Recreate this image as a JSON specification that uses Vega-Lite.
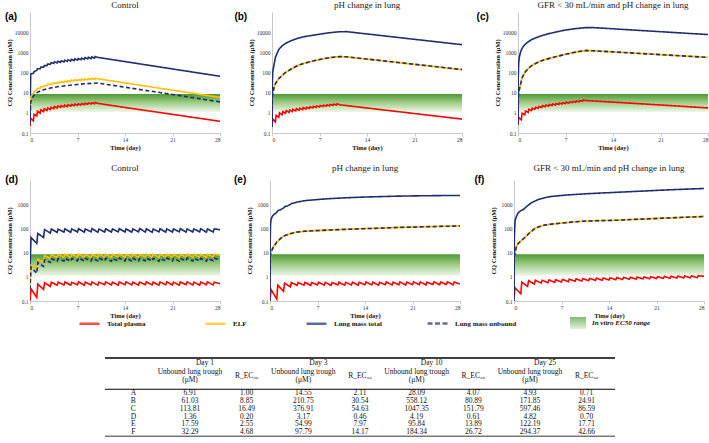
{
"$schema":"https://vega.github.io/schema/vega-lite/v6.json",
"background":"white",
"padding":{"left":4,"top":0,"right":0,"bottom":0},
"config":{"view":{"stroke":null},"font":"Liberation Serif",
"title":{"font":"Liberation Serif","fontSize":9,"fontWeight":"normal","color":"#222","offset":2},
"axis":{"labelFont":"Liberation Serif","labelFontSize":5.5,"labelColor":"#333","titleFont":"Liberation Serif","titleFontWeight":"bold","titleFontSize":6.5,"titleColor":"#111","grid":false,"domainColor":"#c8c8c8","tickColor":"#c8c8c8"},
"axisX":{"tickSize":3,"labelPadding":1,"titlePadding":2},
"axisY":{"ticks":false,"labelPadding":2,"titlePadding":2},
"legend":{"orient":"none","direction":"horizontal","title":null,"padding":0,"symbolType":"stroke","symbolSize":400,"labelFont":"Liberation Serif","labelFontWeight":"bold","labelFontSize":7,"labelColor":"#111","labelOffset":6,"labelLimit":300}},
"datasets":{
"band":[{"t0":0,"t1":28,"lo":1.1,"hi":8.5}],
"cq":[
{"p":"a","s":"TP","t":0,"v":0.22},{"p":"a","s":"TP","t":0.1,"v":0.55},{"p":"a","s":"TP","t":0.5,"v":0.4},{"p":"a","s":"TP","t":0.6,"v":0.85},{"p":"a","s":"TP","t":1,"v":0.7},{"p":"a","s":"TP","t":1.1,"v":1.2},{"p":"a","s":"TP","t":1.5,"v":0.95},{"p":"a","s":"TP","t":1.6,"v":1.4},{"p":"a","s":"TP","t":2,"v":1.15},{"p":"a","s":"TP","t":2.1,"v":1.6},{"p":"a","s":"TP","t":2.5,"v":1.3},{"p":"a","s":"TP","t":2.6,"v":1.75},{"p":"a","s":"TP","t":3,"v":1.45},{"p":"a","s":"TP","t":3.1,"v":1.9},{"p":"a","s":"TP","t":3.5,"v":1.6},{"p":"a","s":"TP","t":3.6,"v":2.05},{"p":"a","s":"TP","t":4,"v":1.72},{"p":"a","s":"TP","t":4.1,"v":2.2},{"p":"a","s":"TP","t":4.5,"v":1.85},{"p":"a","s":"TP","t":4.6,"v":2.3},{"p":"a","s":"TP","t":5,"v":1.95},{"p":"a","s":"TP","t":5.1,"v":2.4},{"p":"a","s":"TP","t":5.5,"v":2.05},{"p":"a","s":"TP","t":5.6,"v":2.5},{"p":"a","s":"TP","t":6,"v":2.15},{"p":"a","s":"TP","t":6.1,"v":2.6},{"p":"a","s":"TP","t":6.5,"v":2.25},{"p":"a","s":"TP","t":6.6,"v":2.7},{"p":"a","s":"TP","t":7,"v":2.35},{"p":"a","s":"TP","t":7.1,"v":2.8},{"p":"a","s":"TP","t":7.5,"v":2.45},{"p":"a","s":"TP","t":7.6,"v":2.9},{"p":"a","s":"TP","t":8,"v":2.55},{"p":"a","s":"TP","t":8.1,"v":3.0},{"p":"a","s":"TP","t":8.5,"v":2.65},{"p":"a","s":"TP","t":8.6,"v":3.1},{"p":"a","s":"TP","t":9,"v":2.75},{"p":"a","s":"TP","t":9.1,"v":3.2},{"p":"a","s":"TP","t":9.5,"v":2.85},{"p":"a","s":"TP","t":9.6,"v":3.3},{"p":"a","s":"TP","t":10,"v":2.95},{"p":"a","s":"TP","t":14,"v":1.85},{"p":"a","s":"TP","t":21,"v":0.84},{"p":"a","s":"TP","t":28,"v":0.38},
{"p":"a","s":"LT","t":0,"v":0.5},{"p":"a","s":"LT","t":0.1,"v":85},{"p":"a","s":"LT","t":0.5,"v":91},{"p":"a","s":"LT","t":0.6,"v":110},{"p":"a","s":"LT","t":1,"v":127},{"p":"a","s":"LT","t":1.1,"v":154},{"p":"a","s":"LT","t":1.5,"v":155},{"p":"a","s":"LT","t":1.6,"v":187},{"p":"a","s":"LT","t":2,"v":182},{"p":"a","s":"LT","t":2.1,"v":220},{"p":"a","s":"LT","t":2.5,"v":218},{"p":"a","s":"LT","t":2.6,"v":264},{"p":"a","s":"LT","t":3,"v":255},{"p":"a","s":"LT","t":3.1,"v":308},{"p":"a","s":"LT","t":3.5,"v":282},{"p":"a","s":"LT","t":3.6,"v":341},{"p":"a","s":"LT","t":4,"v":300},{"p":"a","s":"LT","t":4.1,"v":363},{"p":"a","s":"LT","t":4.5,"v":318},{"p":"a","s":"LT","t":4.6,"v":385},{"p":"a","s":"LT","t":5,"v":336},{"p":"a","s":"LT","t":5.1,"v":407},{"p":"a","s":"LT","t":5.5,"v":355},{"p":"a","s":"LT","t":5.6,"v":429},{"p":"a","s":"LT","t":6,"v":373},{"p":"a","s":"LT","t":6.1,"v":451},{"p":"a","s":"LT","t":6.5,"v":391},{"p":"a","s":"LT","t":6.6,"v":473},{"p":"a","s":"LT","t":7,"v":409},{"p":"a","s":"LT","t":7.1,"v":495},{"p":"a","s":"LT","t":7.5,"v":427},{"p":"a","s":"LT","t":7.6,"v":517},{"p":"a","s":"LT","t":8,"v":450},{"p":"a","s":"LT","t":8.1,"v":545},{"p":"a","s":"LT","t":8.5,"v":473},{"p":"a","s":"LT","t":8.6,"v":572},{"p":"a","s":"LT","t":9,"v":491},{"p":"a","s":"LT","t":9.1,"v":594},{"p":"a","s":"LT","t":9.5,"v":509},{"p":"a","s":"LT","t":9.6,"v":616},{"p":"a","s":"LT","t":10,"v":560},{"p":"a","s":"LT","t":14,"v":347},{"p":"a","s":"LT","t":21,"v":150},{"p":"a","s":"LT","t":28,"v":65},
{"p":"a","s":"E","t":0,"v":2.5},{"p":"a","s":"E","t":0.1,"v":6},{"p":"a","s":"E","t":0.5,"v":9.3},{"p":"a","s":"E","t":0.6,"v":11},{"p":"a","s":"E","t":1,"v":14},{"p":"a","s":"E","t":1.1,"v":16},{"p":"a","s":"E","t":1.5,"v":17},{"p":"a","s":"E","t":1.6,"v":19.5},{"p":"a","s":"E","t":2,"v":19.5},{"p":"a","s":"E","t":2.1,"v":22.5},{"p":"a","s":"E","t":2.5,"v":22},{"p":"a","s":"E","t":2.6,"v":26},{"p":"a","s":"E","t":3,"v":25},{"p":"a","s":"E","t":3.1,"v":29},{"p":"a","s":"E","t":3.5,"v":27},{"p":"a","s":"E","t":3.6,"v":31},{"p":"a","s":"E","t":4,"v":29},{"p":"a","s":"E","t":4.1,"v":33},{"p":"a","s":"E","t":4.5,"v":31},{"p":"a","s":"E","t":4.6,"v":35},{"p":"a","s":"E","t":5,"v":32.5},{"p":"a","s":"E","t":5.1,"v":37.5},{"p":"a","s":"E","t":5.5,"v":34},{"p":"a","s":"E","t":5.6,"v":39.5},{"p":"a","s":"E","t":6,"v":36},{"p":"a","s":"E","t":6.1,"v":42},{"p":"a","s":"E","t":6.5,"v":37.5},{"p":"a","s":"E","t":6.6,"v":43.5},{"p":"a","s":"E","t":7,"v":39},{"p":"a","s":"E","t":7.1,"v":45},{"p":"a","s":"E","t":7.5,"v":40},{"p":"a","s":"E","t":7.6,"v":47},{"p":"a","s":"E","t":8,"v":41.5},{"p":"a","s":"E","t":8.1,"v":48.5},{"p":"a","s":"E","t":8.5,"v":43},{"p":"a","s":"E","t":8.6,"v":50},{"p":"a","s":"E","t":9,"v":44.5},{"p":"a","s":"E","t":9.1,"v":51.5},{"p":"a","s":"E","t":9.5,"v":45.5},{"p":"a","s":"E","t":9.6,"v":52.5},{"p":"a","s":"E","t":10,"v":49},{"p":"a","s":"E","t":14,"v":30.5},{"p":"a","s":"E","t":21,"v":13.3},{"p":"a","s":"E","t":28,"v":5.8},
{"p":"a","s":"LU","t":0,"v":0.3},{"p":"a","s":"LU","t":0.1,"v":3.5},{"p":"a","s":"LU","t":0.5,"v":7},{"p":"a","s":"LU","t":1,"v":10},{"p":"a","s":"LU","t":1.5,"v":12},{"p":"a","s":"LU","t":2,"v":14},{"p":"a","s":"LU","t":3,"v":17},{"p":"a","s":"LU","t":4,"v":19.5},{"p":"a","s":"LU","t":5,"v":21.5},{"p":"a","s":"LU","t":6,"v":23.5},{"p":"a","s":"LU","t":7,"v":25.5},{"p":"a","s":"LU","t":8,"v":27.5},{"p":"a","s":"LU","t":9,"v":29},{"p":"a","s":"LU","t":10,"v":30},{"p":"a","s":"LU","t":14,"v":18.6},{"p":"a","s":"LU","t":21,"v":8.1},{"p":"a","s":"LU","t":28,"v":3.5},
{"p":"b","s":"TP","t":0,"v":0.2},{"p":"b","s":"TP","t":0.1,"v":0.5},{"p":"b","s":"TP","t":0.5,"v":0.35},{"p":"b","s":"TP","t":0.6,"v":0.75},{"p":"b","s":"TP","t":1,"v":0.6},{"p":"b","s":"TP","t":1.1,"v":1.0},{"p":"b","s":"TP","t":1.5,"v":0.8},{"p":"b","s":"TP","t":1.6,"v":1.15},{"p":"b","s":"TP","t":2,"v":0.95},{"p":"b","s":"TP","t":2.1,"v":1.3},{"p":"b","s":"TP","t":2.5,"v":1.05},{"p":"b","s":"TP","t":2.6,"v":1.4},{"p":"b","s":"TP","t":3,"v":1.15},{"p":"b","s":"TP","t":3.1,"v":1.5},{"p":"b","s":"TP","t":3.5,"v":1.25},{"p":"b","s":"TP","t":3.6,"v":1.6},{"p":"b","s":"TP","t":4,"v":1.35},{"p":"b","s":"TP","t":4.1,"v":1.7},{"p":"b","s":"TP","t":4.5,"v":1.45},{"p":"b","s":"TP","t":4.6,"v":1.8},{"p":"b","s":"TP","t":5,"v":1.55},{"p":"b","s":"TP","t":5.1,"v":1.9},{"p":"b","s":"TP","t":5.5,"v":1.65},{"p":"b","s":"TP","t":5.6,"v":2.0},{"p":"b","s":"TP","t":6,"v":1.75},{"p":"b","s":"TP","t":6.1,"v":2.1},{"p":"b","s":"TP","t":6.5,"v":1.85},{"p":"b","s":"TP","t":6.6,"v":2.2},{"p":"b","s":"TP","t":7,"v":1.95},{"p":"b","s":"TP","t":7.1,"v":2.3},{"p":"b","s":"TP","t":7.5,"v":2.05},{"p":"b","s":"TP","t":7.6,"v":2.4},{"p":"b","s":"TP","t":8,"v":2.15},{"p":"b","s":"TP","t":8.1,"v":2.5},{"p":"b","s":"TP","t":8.5,"v":2.25},{"p":"b","s":"TP","t":8.6,"v":2.6},{"p":"b","s":"TP","t":9,"v":2.35},{"p":"b","s":"TP","t":9.1,"v":2.7},{"p":"b","s":"TP","t":9.5,"v":2.45},{"p":"b","s":"TP","t":9.6,"v":2.85},{"p":"b","s":"TP","t":10,"v":2.5},{"p":"b","s":"TP","t":14,"v":1.74},{"p":"b","s":"TP","t":21,"v":0.92},{"p":"b","s":"TP","t":28,"v":0.49},
{"p":"b","s":"LT","t":0,"v":0.2},{"p":"b","s":"LT","t":0.03,"v":20},{"p":"b","s":"LT","t":0.1,"v":100},{"p":"b","s":"LT","t":0.25,"v":200},{"p":"b","s":"LT","t":0.5,"v":550},{"p":"b","s":"LT","t":1,"v":1400},{"p":"b","s":"LT","t":1.5,"v":2100},{"p":"b","s":"LT","t":2,"v":2800},{"p":"b","s":"LT","t":3,"v":4000},{"p":"b","s":"LT","t":4,"v":5200},{"p":"b","s":"LT","t":5,"v":6200},{"p":"b","s":"LT","t":6,"v":7000},{"p":"b","s":"LT","t":7,"v":7900},{"p":"b","s":"LT","t":8,"v":8900},{"p":"b","s":"LT","t":9,"v":9800},{"p":"b","s":"LT","t":10,"v":10500},{"p":"b","s":"LT","t":11,"v":10600},{"p":"b","s":"LT","t":14,"v":8150},{"p":"b","s":"LT","t":21,"v":4420},{"p":"b","s":"LT","t":28,"v":2400},
{"p":"b","s":"LU","t":0,"v":0.3},{"p":"b","s":"LU","t":0.05,"v":5},{"p":"b","s":"LU","t":0.15,"v":10},{"p":"b","s":"LU","t":0.3,"v":18},{"p":"b","s":"LU","t":0.5,"v":28},{"p":"b","s":"LU","t":1,"v":50},{"p":"b","s":"LU","t":1.5,"v":72},{"p":"b","s":"LU","t":2,"v":100},{"p":"b","s":"LU","t":2.7,"v":140},{"p":"b","s":"LU","t":3,"v":160},{"p":"b","s":"LU","t":4,"v":240},{"p":"b","s":"LU","t":5,"v":300},{"p":"b","s":"LU","t":6,"v":370},{"p":"b","s":"LU","t":7,"v":440},{"p":"b","s":"LU","t":8,"v":510},{"p":"b","s":"LU","t":9,"v":570},{"p":"b","s":"LU","t":10,"v":615},{"p":"b","s":"LU","t":11,"v":600},{"p":"b","s":"LU","t":14,"v":464},{"p":"b","s":"LU","t":21,"v":255},{"p":"b","s":"LU","t":28,"v":140},
{"p":"c","s":"TP","t":0,"v":0.25},{"p":"c","s":"TP","t":0.1,"v":0.6},{"p":"c","s":"TP","t":0.5,"v":0.45},{"p":"c","s":"TP","t":0.6,"v":0.95},{"p":"c","s":"TP","t":1,"v":0.8},{"p":"c","s":"TP","t":1.1,"v":1.25},{"p":"c","s":"TP","t":1.5,"v":1.05},{"p":"c","s":"TP","t":1.6,"v":1.5},{"p":"c","s":"TP","t":2,"v":1.3},{"p":"c","s":"TP","t":2.1,"v":1.7},{"p":"c","s":"TP","t":2.5,"v":1.5},{"p":"c","s":"TP","t":2.6,"v":1.9},{"p":"c","s":"TP","t":3,"v":1.7},{"p":"c","s":"TP","t":3.1,"v":2.1},{"p":"c","s":"TP","t":3.5,"v":1.85},{"p":"c","s":"TP","t":3.6,"v":2.3},{"p":"c","s":"TP","t":4,"v":2.0},{"p":"c","s":"TP","t":4.1,"v":2.45},{"p":"c","s":"TP","t":4.5,"v":2.15},{"p":"c","s":"TP","t":4.6,"v":2.6},{"p":"c","s":"TP","t":5,"v":2.3},{"p":"c","s":"TP","t":5.1,"v":2.75},{"p":"c","s":"TP","t":5.5,"v":2.45},{"p":"c","s":"TP","t":5.6,"v":2.9},{"p":"c","s":"TP","t":6,"v":2.6},{"p":"c","s":"TP","t":6.1,"v":3.05},{"p":"c","s":"TP","t":6.5,"v":2.75},{"p":"c","s":"TP","t":6.6,"v":3.2},{"p":"c","s":"TP","t":7,"v":2.9},{"p":"c","s":"TP","t":7.1,"v":3.35},{"p":"c","s":"TP","t":7.5,"v":3.05},{"p":"c","s":"TP","t":7.6,"v":3.5},{"p":"c","s":"TP","t":8,"v":3.2},{"p":"c","s":"TP","t":8.1,"v":3.65},{"p":"c","s":"TP","t":8.5,"v":3.35},{"p":"c","s":"TP","t":8.6,"v":3.85},{"p":"c","s":"TP","t":9,"v":3.55},{"p":"c","s":"TP","t":9.1,"v":4.05},{"p":"c","s":"TP","t":9.5,"v":3.8},{"p":"c","s":"TP","t":9.6,"v":4.4},{"p":"c","s":"TP","t":10,"v":4.1},{"p":"c","s":"TP","t":14,"v":3.4},{"p":"c","s":"TP","t":21,"v":2.45},{"p":"c","s":"TP","t":28,"v":1.75},
{"p":"c","s":"LT","t":0,"v":0.3},{"p":"c","s":"LT","t":0.03,"v":50},{"p":"c","s":"LT","t":0.1,"v":300},{"p":"c","s":"LT","t":0.2,"v":600},{"p":"c","s":"LT","t":0.4,"v":1100},{"p":"c","s":"LT","t":0.7,"v":1800},{"p":"c","s":"LT","t":1.1,"v":2600},{"p":"c","s":"LT","t":1.5,"v":3300},{"p":"c","s":"LT","t":2,"v":4300},{"p":"c","s":"LT","t":2.6,"v":5200},{"p":"c","s":"LT","t":3.5,"v":6700},{"p":"c","s":"LT","t":4.5,"v":8400},{"p":"c","s":"LT","t":5.5,"v":10000},{"p":"c","s":"LT","t":7,"v":12800},{"p":"c","s":"LT","t":8.5,"v":15000},{"p":"c","s":"LT","t":10,"v":16800},{"p":"c","s":"LT","t":11,"v":16900},{"p":"c","s":"LT","t":14,"v":14700},{"p":"c","s":"LT","t":21,"v":10560},{"p":"c","s":"LT","t":28,"v":7600},
{"p":"c","s":"LU","t":0,"v":0.3},{"p":"c","s":"LU","t":0.05,"v":5},{"p":"c","s":"LU","t":0.15,"v":12},{"p":"c","s":"LU","t":0.4,"v":28},{"p":"c","s":"LU","t":0.6,"v":55},{"p":"c","s":"LU","t":1,"v":100},{"p":"c","s":"LU","t":1.6,"v":170},{"p":"c","s":"LU","t":2.2,"v":240},{"p":"c","s":"LU","t":3.1,"v":340},{"p":"c","s":"LU","t":4,"v":440},{"p":"c","s":"LU","t":5.5,"v":600},{"p":"c","s":"LU","t":7,"v":800},{"p":"c","s":"LU","t":8,"v":950},{"p":"c","s":"LU","t":9,"v":1100},{"p":"c","s":"LU","t":10,"v":1230},{"p":"c","s":"LU","t":11,"v":1200},{"p":"c","s":"LU","t":14,"v":1050},{"p":"c","s":"LU","t":21,"v":767},{"p":"c","s":"LU","t":28,"v":560},
{"p":"d","s":"TP","t":0,"v":0.1},{"p":"d","s":"TP","t":0.15,"v":0.32},{"p":"d","s":"TP","t":1,"v":0.14},{"p":"d","s":"TP","t":1.15,"v":0.5},{"p":"d","s":"TP","t":2,"v":0.3},{"p":"d","s":"TP","t":2.15,"v":0.57},{"p":"d","s":"TP","t":3,"v":0.4},{"p":"d","s":"TP","t":3.15,"v":0.6},{"p":"d","s":"TP","t":4,"v":0.45},{"p":"d","s":"TP","t":4.15,"v":0.6},{"p":"d","s":"TP","t":5,"v":0.46},{"p":"d","s":"TP","t":5.15,"v":0.61},{"p":"d","s":"TP","t":6,"v":0.45},{"p":"d","s":"TP","t":6.15,"v":0.59},{"p":"d","s":"TP","t":7,"v":0.47},{"p":"d","s":"TP","t":7.15,"v":0.62},{"p":"d","s":"TP","t":8,"v":0.45},{"p":"d","s":"TP","t":8.15,"v":0.6},{"p":"d","s":"TP","t":9,"v":0.46},{"p":"d","s":"TP","t":9.15,"v":0.61},{"p":"d","s":"TP","t":10,"v":0.45},{"p":"d","s":"TP","t":10.15,"v":0.6},{"p":"d","s":"TP","t":11,"v":0.47},{"p":"d","s":"TP","t":11.15,"v":0.62},{"p":"d","s":"TP","t":12,"v":0.46},{"p":"d","s":"TP","t":12.15,"v":0.6},{"p":"d","s":"TP","t":13,"v":0.45},{"p":"d","s":"TP","t":13.15,"v":0.61},{"p":"d","s":"TP","t":14,"v":0.47},{"p":"d","s":"TP","t":14.15,"v":0.62},{"p":"d","s":"TP","t":15,"v":0.46},{"p":"d","s":"TP","t":15.15,"v":0.6},{"p":"d","s":"TP","t":16,"v":0.45},{"p":"d","s":"TP","t":16.15,"v":0.61},{"p":"d","s":"TP","t":17,"v":0.47},{"p":"d","s":"TP","t":17.15,"v":0.62},{"p":"d","s":"TP","t":18,"v":0.46},{"p":"d","s":"TP","t":18.15,"v":0.6},{"p":"d","s":"TP","t":19,"v":0.45},{"p":"d","s":"TP","t":19.15,"v":0.61},{"p":"d","s":"TP","t":20,"v":0.47},{"p":"d","s":"TP","t":20.15,"v":0.62},{"p":"d","s":"TP","t":21,"v":0.46},{"p":"d","s":"TP","t":21.15,"v":0.6},{"p":"d","s":"TP","t":22,"v":0.45},{"p":"d","s":"TP","t":22.15,"v":0.61},{"p":"d","s":"TP","t":23,"v":0.47},{"p":"d","s":"TP","t":23.15,"v":0.62},{"p":"d","s":"TP","t":24,"v":0.46},{"p":"d","s":"TP","t":24.15,"v":0.6},{"p":"d","s":"TP","t":25,"v":0.45},{"p":"d","s":"TP","t":25.15,"v":0.61},{"p":"d","s":"TP","t":26,"v":0.47},{"p":"d","s":"TP","t":26.15,"v":0.62},{"p":"d","s":"TP","t":27,"v":0.46},{"p":"d","s":"TP","t":27.15,"v":0.6},{"p":"d","s":"TP","t":28,"v":0.52},
{"p":"d","s":"LT","t":0,"v":2},{"p":"d","s":"LT","t":0.15,"v":42},{"p":"d","s":"LT","t":1,"v":24},{"p":"d","s":"LT","t":1.15,"v":62},{"p":"d","s":"LT","t":2,"v":42},{"p":"d","s":"LT","t":2.15,"v":90},{"p":"d","s":"LT","t":3,"v":64},{"p":"d","s":"LT","t":3.15,"v":95},{"p":"d","s":"LT","t":4,"v":68},{"p":"d","s":"LT","t":4.15,"v":94},{"p":"d","s":"LT","t":5,"v":70},{"p":"d","s":"LT","t":5.15,"v":96},{"p":"d","s":"LT","t":6,"v":69},{"p":"d","s":"LT","t":6.15,"v":95},{"p":"d","s":"LT","t":7,"v":71},{"p":"d","s":"LT","t":7.15,"v":97},{"p":"d","s":"LT","t":8,"v":70},{"p":"d","s":"LT","t":8.15,"v":95},{"p":"d","s":"LT","t":9,"v":72},{"p":"d","s":"LT","t":9.15,"v":98},{"p":"d","s":"LT","t":10,"v":69},{"p":"d","s":"LT","t":10.15,"v":94},{"p":"d","s":"LT","t":11,"v":71},{"p":"d","s":"LT","t":11.15,"v":96},{"p":"d","s":"LT","t":12,"v":70},{"p":"d","s":"LT","t":12.15,"v":95},{"p":"d","s":"LT","t":13,"v":72},{"p":"d","s":"LT","t":13.15,"v":97},{"p":"d","s":"LT","t":14,"v":71},{"p":"d","s":"LT","t":14.15,"v":96},{"p":"d","s":"LT","t":15,"v":70},{"p":"d","s":"LT","t":15.15,"v":95},{"p":"d","s":"LT","t":16,"v":72},{"p":"d","s":"LT","t":16.15,"v":98},{"p":"d","s":"LT","t":17,"v":71},{"p":"d","s":"LT","t":17.15,"v":96},{"p":"d","s":"LT","t":18,"v":69},{"p":"d","s":"LT","t":18.15,"v":94},{"p":"d","s":"LT","t":19,"v":72},{"p":"d","s":"LT","t":19.15,"v":97},{"p":"d","s":"LT","t":20,"v":70},{"p":"d","s":"LT","t":20.15,"v":95},{"p":"d","s":"LT","t":21,"v":71},{"p":"d","s":"LT","t":21.15,"v":96},{"p":"d","s":"LT","t":22,"v":72},{"p":"d","s":"LT","t":22.15,"v":98},{"p":"d","s":"LT","t":23,"v":70},{"p":"d","s":"LT","t":23.15,"v":95},{"p":"d","s":"LT","t":24,"v":71},{"p":"d","s":"LT","t":24.15,"v":96},{"p":"d","s":"LT","t":25,"v":72},{"p":"d","s":"LT","t":25.15,"v":97},{"p":"d","s":"LT","t":26,"v":70},{"p":"d","s":"LT","t":26.15,"v":95},{"p":"d","s":"LT","t":27,"v":71},{"p":"d","s":"LT","t":27.15,"v":96},{"p":"d","s":"LT","t":28,"v":88},
{"p":"d","s":"E","t":0,"v":0.4},{"p":"d","s":"E","t":0.15,"v":3.0},{"p":"d","s":"E","t":1,"v":2.1},{"p":"d","s":"E","t":1.15,"v":5.2},{"p":"d","s":"E","t":2,"v":4.0},{"p":"d","s":"E","t":2.15,"v":7.4},{"p":"d","s":"E","t":3,"v":5.8},{"p":"d","s":"E","t":3.15,"v":8.2},{"p":"d","s":"E","t":4,"v":6.4},{"p":"d","s":"E","t":4.15,"v":8.4},{"p":"d","s":"E","t":5,"v":6.5},{"p":"d","s":"E","t":5.15,"v":8.6},{"p":"d","s":"E","t":6,"v":6.4},{"p":"d","s":"E","t":6.15,"v":8.5},{"p":"d","s":"E","t":7,"v":6.6},{"p":"d","s":"E","t":7.15,"v":8.7},{"p":"d","s":"E","t":8,"v":6.5},{"p":"d","s":"E","t":8.15,"v":8.5},{"p":"d","s":"E","t":9,"v":6.4},{"p":"d","s":"E","t":9.15,"v":8.4},{"p":"d","s":"E","t":10,"v":6.6},{"p":"d","s":"E","t":10.15,"v":8.7},{"p":"d","s":"E","t":11,"v":6.5},{"p":"d","s":"E","t":11.15,"v":8.6},{"p":"d","s":"E","t":12,"v":6.4},{"p":"d","s":"E","t":12.15,"v":8.5},{"p":"d","s":"E","t":13,"v":6.6},{"p":"d","s":"E","t":13.15,"v":8.7},{"p":"d","s":"E","t":14,"v":6.5},{"p":"d","s":"E","t":14.15,"v":8.5},{"p":"d","s":"E","t":15,"v":6.5},{"p":"d","s":"E","t":15.15,"v":8.6},{"p":"d","s":"E","t":16,"v":6.4},{"p":"d","s":"E","t":16.15,"v":8.4},{"p":"d","s":"E","t":17,"v":6.6},{"p":"d","s":"E","t":17.15,"v":8.7},{"p":"d","s":"E","t":18,"v":6.5},{"p":"d","s":"E","t":18.15,"v":8.6},{"p":"d","s":"E","t":19,"v":6.4},{"p":"d","s":"E","t":19.15,"v":8.5},{"p":"d","s":"E","t":20,"v":6.6},{"p":"d","s":"E","t":20.15,"v":8.7},{"p":"d","s":"E","t":21,"v":6.5},{"p":"d","s":"E","t":21.15,"v":8.5},{"p":"d","s":"E","t":22,"v":6.4},{"p":"d","s":"E","t":22.15,"v":8.4},{"p":"d","s":"E","t":23,"v":6.6},{"p":"d","s":"E","t":23.15,"v":8.7},{"p":"d","s":"E","t":24,"v":6.5},{"p":"d","s":"E","t":24.15,"v":8.6},{"p":"d","s":"E","t":25,"v":6.5},{"p":"d","s":"E","t":25.15,"v":8.5},{"p":"d","s":"E","t":26,"v":6.4},{"p":"d","s":"E","t":26.15,"v":8.4},{"p":"d","s":"E","t":27,"v":6.6},{"p":"d","s":"E","t":27.15,"v":8.7},{"p":"d","s":"E","t":28,"v":7.6},
{"p":"d","s":"LU","t":0,"v":0.3},{"p":"d","s":"LU","t":0.15,"v":2.5},{"p":"d","s":"LU","t":1,"v":1.4},{"p":"d","s":"LU","t":1.15,"v":3.9},{"p":"d","s":"LU","t":2,"v":2.7},{"p":"d","s":"LU","t":2.15,"v":5.0},{"p":"d","s":"LU","t":3,"v":3.9},{"p":"d","s":"LU","t":3.15,"v":5.6},{"p":"d","s":"LU","t":4,"v":4.4},{"p":"d","s":"LU","t":4.15,"v":5.7},{"p":"d","s":"LU","t":5,"v":4.5},{"p":"d","s":"LU","t":5.15,"v":5.8},{"p":"d","s":"LU","t":6,"v":4.4},{"p":"d","s":"LU","t":6.15,"v":5.7},{"p":"d","s":"LU","t":7,"v":4.6},{"p":"d","s":"LU","t":7.15,"v":5.9},{"p":"d","s":"LU","t":8,"v":4.5},{"p":"d","s":"LU","t":8.15,"v":5.8},{"p":"d","s":"LU","t":9,"v":4.4},{"p":"d","s":"LU","t":9.15,"v":5.7},{"p":"d","s":"LU","t":10,"v":4.6},{"p":"d","s":"LU","t":10.15,"v":5.9},{"p":"d","s":"LU","t":11,"v":4.5},{"p":"d","s":"LU","t":11.15,"v":5.8},{"p":"d","s":"LU","t":12,"v":4.4},{"p":"d","s":"LU","t":12.15,"v":5.7},{"p":"d","s":"LU","t":13,"v":4.6},{"p":"d","s":"LU","t":13.15,"v":5.9},{"p":"d","s":"LU","t":14,"v":4.5},{"p":"d","s":"LU","t":14.15,"v":5.8},{"p":"d","s":"LU","t":15,"v":4.5},{"p":"d","s":"LU","t":15.15,"v":5.8},{"p":"d","s":"LU","t":16,"v":4.4},{"p":"d","s":"LU","t":16.15,"v":5.7},{"p":"d","s":"LU","t":17,"v":4.6},{"p":"d","s":"LU","t":17.15,"v":5.9},{"p":"d","s":"LU","t":18,"v":4.5},{"p":"d","s":"LU","t":18.15,"v":5.8},{"p":"d","s":"LU","t":19,"v":4.4},{"p":"d","s":"LU","t":19.15,"v":5.7},{"p":"d","s":"LU","t":20,"v":4.6},{"p":"d","s":"LU","t":20.15,"v":5.9},{"p":"d","s":"LU","t":21,"v":4.5},{"p":"d","s":"LU","t":21.15,"v":5.8},{"p":"d","s":"LU","t":22,"v":4.4},{"p":"d","s":"LU","t":22.15,"v":5.7},{"p":"d","s":"LU","t":23,"v":4.6},{"p":"d","s":"LU","t":23.15,"v":5.9},{"p":"d","s":"LU","t":24,"v":4.5},{"p":"d","s":"LU","t":24.15,"v":5.8},{"p":"d","s":"LU","t":25,"v":4.5},{"p":"d","s":"LU","t":25.15,"v":5.8},{"p":"d","s":"LU","t":26,"v":4.4},{"p":"d","s":"LU","t":26.15,"v":5.7},{"p":"d","s":"LU","t":27,"v":4.6},{"p":"d","s":"LU","t":27.15,"v":5.9},{"p":"d","s":"LU","t":28,"v":5.0},
{"p":"e","s":"TP","t":0,"v":0.1},{"p":"e","s":"TP","t":0.15,"v":0.3},{"p":"e","s":"TP","t":1,"v":0.12},{"p":"e","s":"TP","t":1.15,"v":0.45},{"p":"e","s":"TP","t":2,"v":0.25},{"p":"e","s":"TP","t":2.15,"v":0.55},{"p":"e","s":"TP","t":3,"v":0.38},{"p":"e","s":"TP","t":3.15,"v":0.58},{"p":"e","s":"TP","t":4,"v":0.44},{"p":"e","s":"TP","t":4.15,"v":0.58},{"p":"e","s":"TP","t":5,"v":0.45},{"p":"e","s":"TP","t":5.15,"v":0.59},{"p":"e","s":"TP","t":6,"v":0.44},{"p":"e","s":"TP","t":6.15,"v":0.58},{"p":"e","s":"TP","t":7,"v":0.46},{"p":"e","s":"TP","t":7.15,"v":0.6},{"p":"e","s":"TP","t":8,"v":0.45},{"p":"e","s":"TP","t":8.15,"v":0.59},{"p":"e","s":"TP","t":9,"v":0.44},{"p":"e","s":"TP","t":9.15,"v":0.58},{"p":"e","s":"TP","t":10,"v":0.46},{"p":"e","s":"TP","t":10.15,"v":0.6},{"p":"e","s":"TP","t":11,"v":0.45},{"p":"e","s":"TP","t":11.15,"v":0.59},{"p":"e","s":"TP","t":12,"v":0.46},{"p":"e","s":"TP","t":12.15,"v":0.6},{"p":"e","s":"TP","t":13,"v":0.45},{"p":"e","s":"TP","t":13.15,"v":0.59},{"p":"e","s":"TP","t":14,"v":0.47},{"p":"e","s":"TP","t":14.15,"v":0.61},{"p":"e","s":"TP","t":15,"v":0.46},{"p":"e","s":"TP","t":15.15,"v":0.6},{"p":"e","s":"TP","t":16,"v":0.45},{"p":"e","s":"TP","t":16.15,"v":0.59},{"p":"e","s":"TP","t":17,"v":0.47},{"p":"e","s":"TP","t":17.15,"v":0.61},{"p":"e","s":"TP","t":18,"v":0.46},{"p":"e","s":"TP","t":18.15,"v":0.6},{"p":"e","s":"TP","t":19,"v":0.47},{"p":"e","s":"TP","t":19.15,"v":0.61},{"p":"e","s":"TP","t":20,"v":0.46},{"p":"e","s":"TP","t":20.15,"v":0.6},{"p":"e","s":"TP","t":21,"v":0.48},{"p":"e","s":"TP","t":21.15,"v":0.62},{"p":"e","s":"TP","t":22,"v":0.47},{"p":"e","s":"TP","t":22.15,"v":0.61},{"p":"e","s":"TP","t":23,"v":0.46},{"p":"e","s":"TP","t":23.15,"v":0.6},{"p":"e","s":"TP","t":24,"v":0.48},{"p":"e","s":"TP","t":24.15,"v":0.62},{"p":"e","s":"TP","t":25,"v":0.47},{"p":"e","s":"TP","t":25.15,"v":0.61},{"p":"e","s":"TP","t":26,"v":0.48},{"p":"e","s":"TP","t":26.15,"v":0.62},{"p":"e","s":"TP","t":27,"v":0.47},{"p":"e","s":"TP","t":27.15,"v":0.61},{"p":"e","s":"TP","t":28,"v":0.5},
{"p":"e","s":"LT","t":0,"v":0.1},{"p":"e","s":"LT","t":0.03,"v":30},{"p":"e","s":"LT","t":0.08,"v":150},{"p":"e","s":"LT","t":0.15,"v":230},{"p":"e","s":"LT","t":0.3,"v":300},{"p":"e","s":"LT","t":0.5,"v":360},{"p":"e","s":"LT","t":0.8,"v":420},{"p":"e","s":"LT","t":1,"v":470},{"p":"e","s":"LT","t":1.2,"v":550},{"p":"e","s":"LT","t":1.5,"v":580},{"p":"e","s":"LT","t":2,"v":700},{"p":"e","s":"LT","t":2.2,"v":800},{"p":"e","s":"LT","t":2.5,"v":830},{"p":"e","s":"LT","t":3,"v":980},{"p":"e","s":"LT","t":3.2,"v":1080},{"p":"e","s":"LT","t":3.5,"v":1120},{"p":"e","s":"LT","t":4,"v":1230},{"p":"e","s":"LT","t":4.5,"v":1300},{"p":"e","s":"LT","t":5,"v":1380},{"p":"e","s":"LT","t":6,"v":1480},{"p":"e","s":"LT","t":7,"v":1560},{"p":"e","s":"LT","t":8.8,"v":1700},{"p":"e","s":"LT","t":11,"v":1830},{"p":"e","s":"LT","t":13.8,"v":1970},{"p":"e","s":"LT","t":16,"v":2050},{"p":"e","s":"LT","t":18.7,"v":2150},{"p":"e","s":"LT","t":22,"v":2220},{"p":"e","s":"LT","t":25,"v":2270},{"p":"e","s":"LT","t":28,"v":2300},
{"p":"e","s":"LU","t":0,"v":0.3},{"p":"e","s":"LU","t":0.05,"v":6},{"p":"e","s":"LU","t":0.1,"v":10},{"p":"e","s":"LU","t":0.25,"v":12},{"p":"e","s":"LU","t":0.5,"v":17},{"p":"e","s":"LU","t":1,"v":27},{"p":"e","s":"LU","t":1.5,"v":37},{"p":"e","s":"LU","t":2,"v":48},{"p":"e","s":"LU","t":2.9,"v":60},{"p":"e","s":"LU","t":3.9,"v":70},{"p":"e","s":"LU","t":5,"v":76},{"p":"e","s":"LU","t":6.4,"v":80},{"p":"e","s":"LU","t":8.8,"v":86},{"p":"e","s":"LU","t":11,"v":91},{"p":"e","s":"LU","t":13.8,"v":97},{"p":"e","s":"LU","t":16,"v":102},{"p":"e","s":"LU","t":18.7,"v":109},{"p":"e","s":"LU","t":22,"v":115},{"p":"e","s":"LU","t":25,"v":121},{"p":"e","s":"LU","t":28,"v":126},
{"p":"f","s":"TP","t":0,"v":0.12},{"p":"f","s":"TP","t":0.15,"v":0.35},{"p":"f","s":"TP","t":1,"v":0.2},{"p":"f","s":"TP","t":1.15,"v":0.6},{"p":"f","s":"TP","t":2,"v":0.4},{"p":"f","s":"TP","t":2.15,"v":0.7},{"p":"f","s":"TP","t":3,"v":0.5},{"p":"f","s":"TP","t":3.15,"v":0.72},{"p":"f","s":"TP","t":4,"v":0.55},{"p":"f","s":"TP","t":4.15,"v":0.72},{"p":"f","s":"TP","t":5,"v":0.57},{"p":"f","s":"TP","t":5.15,"v":0.74},{"p":"f","s":"TP","t":6,"v":0.59},{"p":"f","s":"TP","t":6.15,"v":0.76},{"p":"f","s":"TP","t":7,"v":0.61},{"p":"f","s":"TP","t":7.15,"v":0.78},{"p":"f","s":"TP","t":8,"v":0.63},{"p":"f","s":"TP","t":8.15,"v":0.8},{"p":"f","s":"TP","t":9,"v":0.65},{"p":"f","s":"TP","t":9.15,"v":0.82},{"p":"f","s":"TP","t":10,"v":0.67},{"p":"f","s":"TP","t":10.15,"v":0.84},{"p":"f","s":"TP","t":11,"v":0.69},{"p":"f","s":"TP","t":11.15,"v":0.86},{"p":"f","s":"TP","t":12,"v":0.71},{"p":"f","s":"TP","t":12.15,"v":0.88},{"p":"f","s":"TP","t":13,"v":0.72},{"p":"f","s":"TP","t":13.15,"v":0.9},{"p":"f","s":"TP","t":14,"v":0.74},{"p":"f","s":"TP","t":14.15,"v":0.91},{"p":"f","s":"TP","t":15,"v":0.76},{"p":"f","s":"TP","t":15.15,"v":0.93},{"p":"f","s":"TP","t":16,"v":0.77},{"p":"f","s":"TP","t":16.15,"v":0.95},{"p":"f","s":"TP","t":17,"v":0.79},{"p":"f","s":"TP","t":17.15,"v":0.96},{"p":"f","s":"TP","t":18,"v":0.8},{"p":"f","s":"TP","t":18.15,"v":0.98},{"p":"f","s":"TP","t":19,"v":0.82},{"p":"f","s":"TP","t":19.15,"v":0.99},{"p":"f","s":"TP","t":20,"v":0.83},{"p":"f","s":"TP","t":20.15,"v":1.01},{"p":"f","s":"TP","t":21,"v":0.85},{"p":"f","s":"TP","t":21.15,"v":1.02},{"p":"f","s":"TP","t":22,"v":0.86},{"p":"f","s":"TP","t":22.15,"v":1.04},{"p":"f","s":"TP","t":23,"v":0.87},{"p":"f","s":"TP","t":23.15,"v":1.05},{"p":"f","s":"TP","t":24,"v":0.89},{"p":"f","s":"TP","t":24.15,"v":1.07},{"p":"f","s":"TP","t":25,"v":0.9},{"p":"f","s":"TP","t":25.15,"v":1.08},{"p":"f","s":"TP","t":26,"v":0.91},{"p":"f","s":"TP","t":26.15,"v":1.09},{"p":"f","s":"TP","t":27,"v":0.92},{"p":"f","s":"TP","t":27.15,"v":1.11},{"p":"f","s":"TP","t":28,"v":1.05},
{"p":"f","s":"LT","t":0,"v":0.1},{"p":"f","s":"LT","t":0.05,"v":40},{"p":"f","s":"LT","t":0.15,"v":200},{"p":"f","s":"LT","t":0.25,"v":260},{"p":"f","s":"LT","t":0.4,"v":330},{"p":"f","s":"LT","t":0.63,"v":450},{"p":"f","s":"LT","t":1,"v":540},{"p":"f","s":"LT","t":1.37,"v":600},{"p":"f","s":"LT","t":1.86,"v":800},{"p":"f","s":"LT","t":2.2,"v":950},{"p":"f","s":"LT","t":2.6,"v":1160},{"p":"f","s":"LT","t":3.56,"v":1550},{"p":"f","s":"LT","t":4.5,"v":1850},{"p":"f","s":"LT","t":5.5,"v":2100},{"p":"f","s":"LT","t":8,"v":2420},{"p":"f","s":"LT","t":10.5,"v":2680},{"p":"f","s":"LT","t":12.9,"v":2900},{"p":"f","s":"LT","t":15.3,"v":3120},{"p":"f","s":"LT","t":17.7,"v":3350},{"p":"f","s":"LT","t":20,"v":3600},{"p":"f","s":"LT","t":22.6,"v":3900},{"p":"f","s":"LT","t":25,"v":4150},{"p":"f","s":"LT","t":28,"v":4450},
{"p":"f","s":"LU","t":0,"v":0.3},{"p":"f","s":"LU","t":0.05,"v":5},{"p":"f","s":"LU","t":0.15,"v":10},{"p":"f","s":"LU","t":0.39,"v":19},{"p":"f","s":"LU","t":0.63,"v":24},{"p":"f","s":"LU","t":1,"v":30},{"p":"f","s":"LU","t":1.6,"v":42},{"p":"f","s":"LU","t":2.3,"v":66},{"p":"f","s":"LU","t":3.1,"v":100},{"p":"f","s":"LU","t":3.8,"v":120},{"p":"f","s":"LU","t":4.5,"v":137},{"p":"f","s":"LU","t":5.5,"v":150},{"p":"f","s":"LU","t":6.5,"v":160},{"p":"f","s":"LU","t":8.5,"v":182},{"p":"f","s":"LU","t":10.4,"v":200},{"p":"f","s":"LU","t":12.8,"v":210},{"p":"f","s":"LU","t":15.3,"v":218},{"p":"f","s":"LU","t":17.7,"v":235},{"p":"f","s":"LU","t":20,"v":250},{"p":"f","s":"LU","t":24,"v":280},{"p":"f","s":"LU","t":28,"v":310}
],
"leg":[{"c1":"Total plasma","c4":"Lung mass unbound","c5":"In vitro EC50 range"},{"c1":"ELF"},{"c1":"Lung mass total"}],
"tbl":[
{"r":"A","d1u":6.91,"d1r":1.00,"d3u":14.55,"d3r":2.11,"d10u":28.09,"d10r":4.07,"d25u":4.93,"d25r":0.71},
{"r":"B","d1u":61.03,"d1r":8.85,"d3u":210.75,"d3r":30.54,"d10u":558.12,"d10r":80.89,"d25u":171.85,"d25r":24.91},
{"r":"C","d1u":113.81,"d1r":16.49,"d3u":376.91,"d3r":54.63,"d10u":1047.35,"d10r":151.79,"d25u":597.46,"d25r":86.59},
{"r":"D","d1u":1.36,"d1r":0.20,"d3u":3.17,"d3r":0.46,"d10u":4.19,"d10r":0.61,"d25u":4.82,"d25r":0.70},
{"r":"E","d1u":17.59,"d1r":2.55,"d3u":54.99,"d3r":7.97,"d10u":95.84,"d10r":13.89,"d25u":122.19,"d25r":17.71},
{"r":"F","d1u":32.29,"d1r":4.68,"d3u":97.79,"d3r":14.17,"d10u":184.34,"d10r":26.72,"d25u":294.37,"d25r":42.66}],
"thead":[
{"c":"d1u","r":"h1","txt":"Day 1","k":"d"},{"c":"d3u","r":"h1","txt":"Day 3","k":"d"},{"c":"d10u","r":"h1","txt":"Day 10","k":"d"},{"c":"d25u","r":"h1","txt":"Day 25","k":"d"},
{"c":"d1u","r":"h2","txt":"Unbound lung trough","k":"u"},{"c":"d3u","r":"h2","txt":"Unbound lung trough","k":"u"},{"c":"d10u","r":"h2","txt":"Unbound lung trough","k":"u"},{"c":"d25u","r":"h2","txt":"Unbound lung trough","k":"u"},
{"c":"d1u","r":"h3","txt":"(μM)","k":"u"},{"c":"d3u","r":"h3","txt":"(μM)","k":"u"},{"c":"d10u","r":"h3","txt":"(μM)","k":"u"},{"c":"d25u","r":"h3","txt":"(μM)","k":"u"},
{"c":"d1r","r":"h2","txt":"R_EC₉₀","k":"r"},{"c":"d3r","r":"h2","txt":"R_EC₉₀","k":"r"},{"c":"d10r","r":"h2","txt":"R_EC₉₀","k":"r"},{"c":"d25r","r":"h2","txt":"R_EC₉₀","k":"r"}],
"tlines":[{"at":"h1"},{"at":"A"},{"at":"z"}]
},
"spacing":38,
"vconcat":[
{"spacing":13,"vconcat":[
{"spacing":13,"hconcat":[
{"width":190,"height":121,"title":"Control","layer":[
{"data":{"name":"band"},"mark":{"type":"rect","fill":{"gradient":"linear","x1":0,"y1":0,"x2":0,"y2":1,"stops":[{"offset":0,"color":"#4f9a35"},{"offset":0.5,"color":"#a3cf8c"},{"offset":1,"color":"#eef7ea"}]}},"encoding":{"x":{"field":"t0","type":"quantitative","title":"Time (day)","scale":{"domain":[0,28]},"axis":{"values":[0,7,14,21,28]}},"x2":{"field":"t1"},"y":{"field":"hi","type":"quantitative","title":"CQ Concentration (μM)","scale":{"type":"log","domain":[0.1,28000]},"axis":{"values":[0.1,1,10,100,1000,10000],"format":"~g"}},"y2":{"field":"lo"}}},
{"data":{"name":"cq"},"transform":[{"filter":"datum.p=='a'"}],"mark":{"type":"line","strokeWidth":1.6,"clip":true},"encoding":{"x":{"field":"t","type":"quantitative","title":"Time (day)","scale":{"domain":[0,28]}},"y":{"field":"v","type":"quantitative","title":"CQ Concentration (μM)","scale":{"type":"log","domain":[0.1,28000]}},"color":{"field":"s","type":"nominal","scale":{"domain":["TP","E","LT","LU"],"range":["#ff0000","#ffc000","#1f2d6e","#1f2d6e"]},"legend":null},"strokeDash":{"field":"s","type":"nominal","scale":{"domain":["TP","E","LT","LU"],"range":[[1,0],[1,0],[1,0],[4,2.5]]},"legend":null}}},
{"data":{"values":[{"lab":"(a)"}]},"mark":{"type":"text","font":"Liberation Sans","fontWeight":"bold","fontSize":10,"dy":-6.5,"baseline":"middle"},"encoding":{"x":{"datum":-2.8,"type":"quantitative"},"y":{"datum":28000,"type":"quantitative"},"text":{"field":"lab"}}}
]},
{"width":190,"height":121,"title":"pH change in lung","layer":[
{"data":{"name":"band"},"mark":{"type":"rect","fill":{"gradient":"linear","x1":0,"y1":0,"x2":0,"y2":1,"stops":[{"offset":0,"color":"#4f9a35"},{"offset":0.5,"color":"#a3cf8c"},{"offset":1,"color":"#eef7ea"}]}},"encoding":{"x":{"field":"t0","type":"quantitative","title":"Time (day)","scale":{"domain":[0,28]},"axis":{"values":[0,7,14,21,28]}},"x2":{"field":"t1"},"y":{"field":"hi","type":"quantitative","title":"CQ Concentration (μM)","scale":{"type":"log","domain":[0.1,28000]},"axis":{"values":[0.1,1,10,100,1000,10000],"format":"~g"}},"y2":{"field":"lo"}}},
{"data":{"name":"cq"},"transform":[{"filter":"datum.p=='b' && datum.s=='LU'"}],"mark":{"type":"line","strokeWidth":1.8,"color":"#ffc000","clip":true},"encoding":{"x":{"field":"t","type":"quantitative","title":"Time (day)","scale":{"domain":[0,28]}},"y":{"field":"v","type":"quantitative","title":"CQ Concentration (μM)","scale":{"type":"log","domain":[0.1,28000]}}}},
{"data":{"name":"cq"},"transform":[{"filter":"datum.p=='b'"}],"mark":{"type":"line","strokeWidth":1.6,"clip":true},"encoding":{"x":{"field":"t","type":"quantitative","title":"Time (day)","scale":{"domain":[0,28]}},"y":{"field":"v","type":"quantitative","title":"CQ Concentration (μM)","scale":{"type":"log","domain":[0.1,28000]}},"color":{"field":"s","type":"nominal","scale":{"domain":["TP","E","LT","LU"],"range":["#ff0000","#ffc000","#1f2d6e","#1f2d6e"]},"legend":null},"strokeDash":{"field":"s","type":"nominal","scale":{"domain":["TP","E","LT","LU"],"range":[[1,0],[1,0],[1,0],[4,2.5]]},"legend":null}}},
{"data":{"values":[{"lab":"(b)"}]},"mark":{"type":"text","font":"Liberation Sans","fontWeight":"bold","fontSize":10,"dy":-6.5,"baseline":"middle"},"encoding":{"x":{"datum":-4.6,"type":"quantitative"},"y":{"datum":28000,"type":"quantitative"},"text":{"field":"lab"}}}
]},
{"width":190,"height":121,"title":"GFR < 30 mL/min and pH change in lung","layer":[
{"data":{"name":"band"},"mark":{"type":"rect","fill":{"gradient":"linear","x1":0,"y1":0,"x2":0,"y2":1,"stops":[{"offset":0,"color":"#4f9a35"},{"offset":0.5,"color":"#a3cf8c"},{"offset":1,"color":"#eef7ea"}]}},"encoding":{"x":{"field":"t0","type":"quantitative","title":"Time (day)","scale":{"domain":[0,28]},"axis":{"values":[0,7,14,21,28]}},"x2":{"field":"t1"},"y":{"field":"hi","type":"quantitative","title":"CQ Concentration (μM)","scale":{"type":"log","domain":[0.1,28000]},"axis":{"values":[0.1,1,10,100,1000,10000],"format":"~g"}},"y2":{"field":"lo"}}},
{"data":{"name":"cq"},"transform":[{"filter":"datum.p=='c' && datum.s=='LU'"}],"mark":{"type":"line","strokeWidth":1.8,"color":"#ffc000","clip":true},"encoding":{"x":{"field":"t","type":"quantitative","title":"Time (day)","scale":{"domain":[0,28]}},"y":{"field":"v","type":"quantitative","title":"CQ Concentration (μM)","scale":{"type":"log","domain":[0.1,28000]}}}},
{"data":{"name":"cq"},"transform":[{"filter":"datum.p=='c'"}],"mark":{"type":"line","strokeWidth":1.6,"clip":true},"encoding":{"x":{"field":"t","type":"quantitative","title":"Time (day)","scale":{"domain":[0,28]}},"y":{"field":"v","type":"quantitative","title":"CQ Concentration (μM)","scale":{"type":"log","domain":[0.1,28000]}},"color":{"field":"s","type":"nominal","scale":{"domain":["TP","E","LT","LU"],"range":["#ff0000","#ffc000","#1f2d6e","#1f2d6e"]},"legend":null},"strokeDash":{"field":"s","type":"nominal","scale":{"domain":["TP","E","LT","LU"],"range":[[1,0],[1,0],[1,0],[4,2.5]]},"legend":null}}},
{"data":{"values":[{"lab":"(c)"}]},"mark":{"type":"text","font":"Liberation Sans","fontWeight":"bold","fontSize":10,"dy":-6.5,"baseline":"middle"},"encoding":{"x":{"datum":-5.2,"type":"quantitative"},"y":{"datum":28000,"type":"quantitative"},"text":{"field":"lab"}}}
]}
]},
{"spacing":13,"hconcat":[
{"width":190,"height":121,"title":"Control","layer":[
{"data":{"name":"band"},"mark":{"type":"rect","fill":{"gradient":"linear","x1":0,"y1":0,"x2":0,"y2":1,"stops":[{"offset":0,"color":"#4f9a35"},{"offset":0.5,"color":"#a3cf8c"},{"offset":1,"color":"#eef7ea"}]}},"encoding":{"x":{"field":"t0","type":"quantitative","title":"Time (day)","scale":{"domain":[0,28]},"axis":{"values":[0,7,14,21,28]}},"x2":{"field":"t1"},"y":{"field":"hi","type":"quantitative","title":"CQ Concentration (μM)","scale":{"type":"log","domain":[0.1,4500]},"axis":{"values":[0.1,1,10,100,1000],"format":"~g","titlePadding":4.7}},"y2":{"field":"lo"}}},
{"data":{"name":"cq"},"transform":[{"filter":"datum.p=='d'"}],"mark":{"type":"line","strokeWidth":1.6,"clip":true},"encoding":{"x":{"field":"t","type":"quantitative","title":"Time (day)","scale":{"domain":[0,28]}},"y":{"field":"v","type":"quantitative","title":"CQ Concentration (μM)","scale":{"type":"log","domain":[0.1,4500]}},"color":{"field":"s","type":"nominal","scale":{"domain":["TP","E","LT","LU"],"range":["#ff0000","#ffc000","#1f2d6e","#1f2d6e"]},"legend":null},"strokeDash":{"field":"s","type":"nominal","scale":{"domain":["TP","E","LT","LU"],"range":[[1,0],[1,0],[1,0],[4,2.5]]},"legend":null}}},
{"data":{"values":[{"lab":"(d)"}]},"mark":{"type":"text","font":"Liberation Sans","fontWeight":"bold","fontSize":10,"dy":-8,"baseline":"middle"},"encoding":{"x":{"datum":-2.7,"type":"quantitative"},"y":{"datum":4500,"type":"quantitative"},"text":{"field":"lab"}}}
]},
{"width":190,"height":121,"title":"pH change in lung","layer":[
{"data":{"name":"band"},"mark":{"type":"rect","fill":{"gradient":"linear","x1":0,"y1":0,"x2":0,"y2":1,"stops":[{"offset":0,"color":"#4f9a35"},{"offset":0.5,"color":"#a3cf8c"},{"offset":1,"color":"#eef7ea"}]}},"encoding":{"x":{"field":"t0","type":"quantitative","title":"Time (day)","scale":{"domain":[0,28]},"axis":{"values":[0,7,14,21,28]}},"x2":{"field":"t1"},"y":{"field":"hi","type":"quantitative","title":"CQ Concentration (μM)","scale":{"type":"log","domain":[0.1,4500]},"axis":{"values":[0.1,1,10,100,1000],"format":"~g","titlePadding":4.7}},"y2":{"field":"lo"}}},
{"data":{"name":"cq"},"transform":[{"filter":"datum.p=='e' && datum.s=='LU'"}],"mark":{"type":"line","strokeWidth":1.8,"color":"#ffc000","clip":true},"encoding":{"x":{"field":"t","type":"quantitative","title":"Time (day)","scale":{"domain":[0,28]}},"y":{"field":"v","type":"quantitative","title":"CQ Concentration (μM)","scale":{"type":"log","domain":[0.1,4500]}}}},
{"data":{"name":"cq"},"transform":[{"filter":"datum.p=='e'"}],"mark":{"type":"line","strokeWidth":1.6,"clip":true},"encoding":{"x":{"field":"t","type":"quantitative","title":"Time (day)","scale":{"domain":[0,28]}},"y":{"field":"v","type":"quantitative","title":"CQ Concentration (μM)","scale":{"type":"log","domain":[0.1,4500]}},"color":{"field":"s","type":"nominal","scale":{"domain":["TP","E","LT","LU"],"range":["#ff0000","#ffc000","#1f2d6e","#1f2d6e"]},"legend":null},"strokeDash":{"field":"s","type":"nominal","scale":{"domain":["TP","E","LT","LU"],"range":[[1,0],[1,0],[1,0],[4,2.5]]},"legend":null}}},
{"data":{"values":[{"lab":"(e)"}]},"mark":{"type":"text","font":"Liberation Sans","fontWeight":"bold","fontSize":10,"dy":-8,"baseline":"middle"},"encoding":{"x":{"datum":-4.4,"type":"quantitative"},"y":{"datum":4500,"type":"quantitative"},"text":{"field":"lab"}}}
]},
{"width":190,"height":121,"title":"GFR < 30 mL/min and pH change in lung","layer":[
{"data":{"name":"band"},"mark":{"type":"rect","fill":{"gradient":"linear","x1":0,"y1":0,"x2":0,"y2":1,"stops":[{"offset":0,"color":"#4f9a35"},{"offset":0.5,"color":"#a3cf8c"},{"offset":1,"color":"#eef7ea"}]}},"encoding":{"x":{"field":"t0","type":"quantitative","title":"Time (day)","scale":{"domain":[0,28]},"axis":{"values":[0,7,14,21,28]}},"x2":{"field":"t1"},"y":{"field":"hi","type":"quantitative","title":"CQ Concentration (μM)","scale":{"type":"log","domain":[0.1,4500]},"axis":{"values":[0.1,1,10,100,1000],"format":"~g","titlePadding":4.7}},"y2":{"field":"lo"}}},
{"data":{"name":"cq"},"transform":[{"filter":"datum.p=='f' && datum.s=='LU'"}],"mark":{"type":"line","strokeWidth":1.8,"color":"#ffc000","clip":true},"encoding":{"x":{"field":"t","type":"quantitative","title":"Time (day)","scale":{"domain":[0,28]}},"y":{"field":"v","type":"quantitative","title":"CQ Concentration (μM)","scale":{"type":"log","domain":[0.1,4500]}}}},
{"data":{"name":"cq"},"transform":[{"filter":"datum.p=='f'"}],"mark":{"type":"line","strokeWidth":1.6,"clip":true},"encoding":{"x":{"field":"t","type":"quantitative","title":"Time (day)","scale":{"domain":[0,28]}},"y":{"field":"v","type":"quantitative","title":"CQ Concentration (μM)","scale":{"type":"log","domain":[0.1,4500]}},"color":{"field":"s","type":"nominal","scale":{"domain":["TP","E","LT","LU"],"range":["#ff0000","#ffc000","#1f2d6e","#1f2d6e"]},"legend":null},"strokeDash":{"field":"s","type":"nominal","scale":{"domain":["TP","E","LT","LU"],"range":[[1,0],[1,0],[1,0],[4,2.5]]},"legend":null}}},
{"data":{"values":[{"lab":"(f)"}]},"mark":{"type":"text","font":"Liberation Sans","fontWeight":"bold","fontSize":10,"dy":-8,"baseline":"middle"},"encoding":{"x":{"datum":-5.1,"type":"quantitative"},"y":{"datum":4500,"type":"quantitative"},"text":{"field":"lab"}}}
]}
]}
]},
{"spacing":1,"hconcat":[
{"width":73,"height":1,"data":{"values":[]},"mark":{"type":"point"}},
{"width":510,"height":86,"layer":[
{"data":{"name":"tlines"},"mark":{"type":"rule","color":"#000"},"encoding":{"y":{"field":"at","type":"nominal","bandPosition":0,"scale":{"type":"band","domain":["h1","h2","h3","g","A","B","C","D","E","F","z"],"paddingInner":0,"paddingOuter":0},"axis":null},"strokeWidth":{"field":"at","type":"nominal","scale":{"domain":["h1","A","z"],"range":[1.5,0.8,1.5]},"legend":null}}},
{"data":{"name":"tbl"},"transform":[{"fold":["d1u","d1r","d3u","d3r","d10u","d10r","d25u","d25r"]}],"mark":{"type":"text","font":"Liberation Serif","fontSize":7.5,"color":"#111","baseline":"middle"},"encoding":{"x":{"field":"key","type":"nominal","bandPosition":0.5,"scale":{"type":"band","domain":["lab","d1u","d1r","d3u","d3r","d10u","d10r","d25u","d25r"],"paddingInner":0,"paddingOuter":0},"axis":null},"y":{"field":"r","type":"nominal","bandPosition":0.5,"scale":{"type":"band","domain":["h1","h2","h3","g","A","B","C","D","E","F","z"],"paddingInner":0,"paddingOuter":0},"axis":null},"text":{"field":"value","type":"quantitative","format":".2f"}}},
{"data":{"name":"tbl"},"mark":{"type":"text","font":"Liberation Serif","fontSize":7.5,"color":"#111","baseline":"middle"},"encoding":{"x":{"datum":"lab","type":"nominal","bandPosition":0.5},"y":{"field":"r","type":"nominal","bandPosition":0.5},"text":{"field":"r"}}},
{"data":{"name":"thead"},"transform":[{"filter":"datum.k=='d'"}],"mark":{"type":"text","font":"Liberation Serif","fontSize":7.5,"color":"#111","baseline":"middle","dx":15,"dy":1},"encoding":{"x":{"field":"c","type":"nominal","bandPosition":0.5},"y":{"field":"r","type":"nominal","bandPosition":0.5},"text":{"field":"txt"}}},
{"data":{"name":"thead"},"transform":[{"filter":"datum.k=='u'"}],"mark":{"type":"text","font":"Liberation Serif","fontSize":7.5,"color":"#111","baseline":"middle","dy":2},"encoding":{"x":{"field":"c","type":"nominal","bandPosition":0.5},"y":{"field":"r","type":"nominal","bandPosition":0.5},"text":{"field":"txt"}}},
{"data":{"name":"thead"},"transform":[{"filter":"datum.k=='r'"}],"mark":{"type":"text","font":"Liberation Serif","fontSize":7.5,"color":"#111","baseline":"middle","dy":6},"encoding":{"x":{"field":"c","type":"nominal","bandPosition":0.5},"y":{"field":"r","type":"nominal","bandPosition":0.5},"text":{"field":"txt"}}},
{"data":{"name":"leg"},"transform":[{"filter":"datum.c1 == 'none'"}],"mark":{"type":"point","filled":false},"encoding":{"stroke":{"field":"c1","type":"nominal","scale":{"domain":["Total plasma","ELF","Lung mass total"],"range":["#ff0000","#ffc000","#1f2d6e"]},"legend":{"legendX":48,"legendY":300,"symbolStrokeWidth":2.5,"columnPadding":54}}}},
{"data":{"name":"leg"},"transform":[{"filter":"datum.c1 == 'none'"}],"mark":{"type":"point","filled":false,"color":"#1f2d6e"},"encoding":{"size":{"field":"c4","type":"nominal","scale":{"domain":["Lung mass unbound"],"range":[400,400]},"legend":{"legendX":396,"legendY":300,"symbolStrokeColor":"#1f2d6e","symbolStrokeWidth":2.5,"symbolDash":[5,2.5]}}}},
{"data":{"name":"leg"},"transform":[{"filter":"datum.c1 == 'none'"}],"mark":{"type":"point","filled":true,"fill":{"gradient":"linear","x1":0,"y1":0,"x2":0,"y2":1,"stops":[{"offset":0,"color":"#4f9a35"},{"offset":1,"color":"#d5ebc8"}]},"strokeWidth":0},"encoding":{"shape":{"field":"c5","type":"nominal","scale":{"domain":["In vitro EC50 range"],"range":["M-1,-0.75H1V0.75H-1Z"]},"legend":{"legendX":540,"legendY":303,"symbolSize":256,"symbolType":"square","symbolStrokeWidth":0,"labelFontStyle":"italic"}}}}
]}
]}
]
}
